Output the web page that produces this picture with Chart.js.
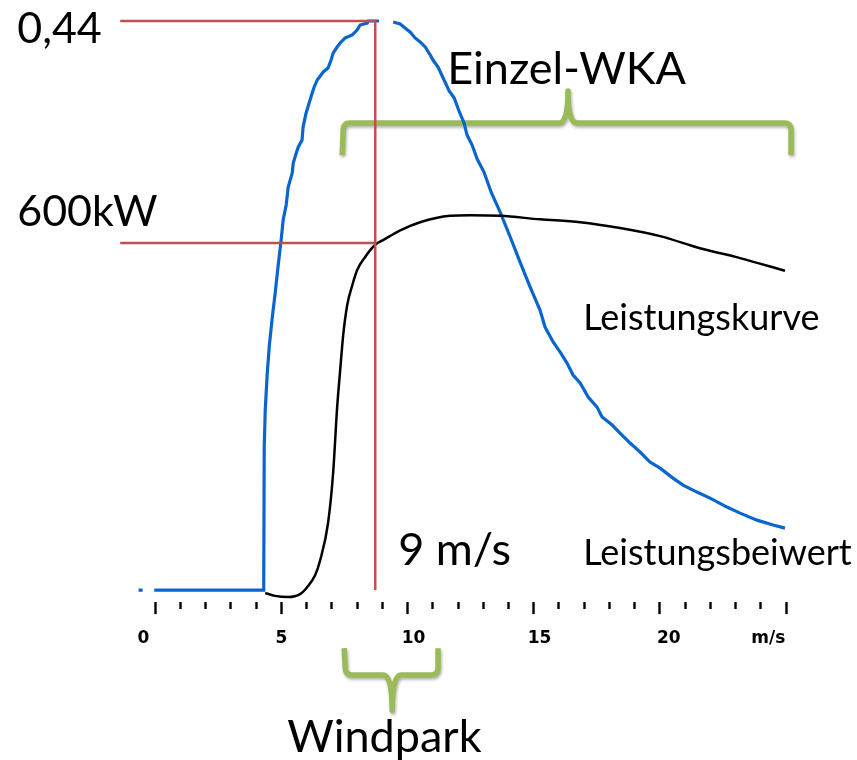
<!DOCTYPE html>
<html>
<head>
<meta charset="utf-8">
<script src="https://cdn.jsdelivr.net/npm/chart.js@4/dist/chart.umd.min.js"></script>
<style>
  html, body { margin: 0; padding: 0; background: #fff; }
  #wrap { width: 857px; height: 760px; position: relative; }
</style>
</head>
<body>
<div id="wrap"><canvas id="chart"></canvas></div>
<script>
// Leistungsbeiwert cp over wind speed (m/s), null = gap in the curve
const cpSpeed = [-0.66, -0.50, -0.45, -0.04, 4.30, 4.32, 4.36, 4.44, 4.52, 4.64, 4.75, 4.87, 4.99, 5.07, 5.19,
  5.27, 5.43, 5.47, 5.59, 5.67, 5.82, 5.86, 5.98, 6.10, 6.22, 6.30, 6.42, 6.54, 6.66, 6.85, 6.97, 7.05, 7.21,
  7.33, 7.53, 7.81, 8.00, 8.12, 8.40, 8.44, 8.87, 9.10, 9.43, 9.71, 9.90, 10.10, 10.30, 10.50, 10.70, 10.90,
  11.01, 11.21, 11.65, 11.85, 12.04, 12.24, 12.36, 12.56, 12.76, 13.03, 13.31, 13.67, 14.07, 14.46, 14.86,
  15.25, 15.45, 15.77, 16.05, 16.32, 16.56, 16.84, 17.16, 17.51, 17.71, 18.11, 18.42, 18.82, 19.22, 19.61,
  20.01, 20.52, 20.92, 21.47, 21.99, 22.66, 23.18, 23.85, 24.49, 24.96];
const cpValue = [0, 0, null, 0, 0, 0.1106, 0.1392, 0.1678, 0.1887, 0.2111, 0.2289, 0.2505, 0.2706, 0.2861, 0.2977,
  0.3116, 0.3225, 0.3302, 0.3379, 0.3426, 0.3480, 0.3580, 0.3689, 0.3766, 0.3843, 0.3890, 0.3944, 0.3975, 0.4006,
  0.4036, 0.4098, 0.4152, 0.4199, 0.4230, 0.4269, 0.4292, 0.4330, 0.4369, 0.4384, 0.44, 0.44, null, 0.4392,
  0.4377, 0.4346, 0.4315, 0.4269, 0.4238, 0.4199, 0.4137, 0.4098, 0.4044, 0.3859, 0.3805, 0.3704, 0.3611,
  0.3518, 0.3441, 0.3333, 0.3232, 0.3078, 0.2923, 0.2730, 0.2536, 0.2343, 0.2165, 0.2034, 0.1918, 0.1840,
  0.1755, 0.1663, 0.1601, 0.1492, 0.1415, 0.1338, 0.1276, 0.1214, 0.1137, 0.1067, 0.0990, 0.0943, 0.0866,
  0.0812, 0.0758, 0.0711, 0.0642, 0.0595, 0.0541, 0.0503, 0.0479];

// Leistungskurve in kW
const powerSpeed = [4.36, 4.75, 5.27, 5.74, 6.02, 6.34, 6.54, 6.85, 7.05, 7.21, 7.33, 7.45, 7.61, 7.81, 8.00,
  8.32, 8.72, 9.03, 9.71, 10.50, 11.69, 12.48, 13.67, 15.25, 16.84, 18.42, 20.01, 21.59, 23.18, 24.96];
const powerKW = [-5, -10, -12, -7, 5, 26, 52, 116, 202, 316, 380, 441, 493, 527, 553,
  576, 597, 605, 622, 636, 647, 648, 647, 641, 636, 626, 612, 591, 574, 552];

// reference marks
const cpMax = 0.44;
const ratedKW = 600;
const refSpeed = 8.72;
const refStart = -1.39;

const tickLabels = { 0: '0    ', 5: '5', 10: '  10', 15: '  15', 20: '   20', 25: 'm/s      ' };

// braces in data units (x = m/s, y = cp)
const braceEinzel = { from: 7.45, to: 25.2, tip: 16.36, line: 0.3611, ends: 0.3364, peak: 0.3859 };
const braceWindpark = { from: 7.53, to: 11.21, tip: 9.39, line: -0.0657, ends: -0.0449, peak: -0.0928 };

// text notes, anchored at left/baseline in data units
const notes = [
  { text: '0,44', x: -5.47, y: 0.423, size: 43 },
  { text: '600kW', x: -5.47, y: 0.2815, size: 43 },
  { text: 'Einzel-WKA', x: 11.57, y: 0.3913, size: 45 },
  { text: '9 m/s', x: 9.63, y: 0.0193, size: 45 },
  { text: 'Windpark', x: 5.23, y: -0.1253, size: 45 },
  { text: 'Leistungskurve', x: 16.96, y: 0.2011, size: 36 },
  { text: 'Leistungsbeiwert', x: 16.96, y: 0.0193, size: 36 }
];

const cpPoints = cpSpeed.map((s, i) => ({ x: s, y: cpValue[i] }));
const powerPoints = powerSpeed.map((s, i) => ({ x: s, y: powerKW[i] }));

function drawBrace(ctx, xs, ys, b) {
  const x1 = xs.getPixelForValue(b.from), x2 = xs.getPixelForValue(b.to), xm = xs.getPixelForValue(b.tip);
  const yl = ys.getPixelForValue(b.line), ye = ys.getPixelForValue(b.ends), yt = ys.getPixelForValue(b.peak);
  const d = Math.sign(ye - yl), r = 7, w = 9;
  ctx.beginPath();
  ctx.moveTo(x1 - 1, ye);
  ctx.lineTo(x1, yl + d * r);
  ctx.quadraticCurveTo(x1, yl, x1 + r, yl);
  ctx.lineTo(xm - w, yl);
  ctx.quadraticCurveTo(xm, yl, xm, yt);
  ctx.quadraticCurveTo(xm, yl, xm + w, yl);
  ctx.lineTo(x2 - r, yl);
  ctx.quadraticCurveTo(x2, yl, x2, yl + d * r);
  ctx.lineTo(x2, ye);
  ctx.stroke();
}

const annotate = {
  id: 'annotate',
  beforeDatasetsDraw(chart) {
    const ctx = chart.ctx, xs = chart.scales.x, ys = chart.scales.y;
    ctx.save();
    ctx.strokeStyle = '#9BBB59';
    ctx.lineWidth = 5.5;
    ctx.lineJoin = 'round';
    ctx.lineCap = 'butt';
    ctx.shadowColor = 'rgba(0,0,0,0.3)';
    ctx.shadowBlur = 3;
    ctx.shadowOffsetX = 1;
    ctx.shadowOffsetY = 2;
    drawBrace(ctx, xs, ys, braceEinzel);
    drawBrace(ctx, xs, ys, braceWindpark);
    ctx.restore();
  },
  afterDraw(chart) {
    const ctx = chart.ctx, xs = chart.scales.x, ys = chart.scales.y;
    ctx.save();
    ctx.fillStyle = '#000';
    ctx.textAlign = 'left';
    ctx.textBaseline = 'alphabetic';
    notes.forEach(n => {
      ctx.font = n.size + 'px Lato';
      ctx.fillText(n.text, xs.getPixelForValue(n.x), ys.getPixelForValue(n.y));
    });
    ctx.restore();
  }
};

new Chart(document.getElementById('chart'), {
  type: 'line',
  data: {
    datasets: [
      {
        label: 'cp max',
        data: [{ x: refStart, y: cpMax }, { x: refSpeed, y: cpMax }, { x: refSpeed, y: 0 }],
        yAxisID: 'y',
        borderColor: '#C0504D',
        borderWidth: 2.5,
        pointRadius: 0,
        clip: false
      },
      {
        label: 'Nennleistung',
        data: [{ x: refStart, y: ratedKW }, { x: refSpeed, y: ratedKW }],
        yAxisID: 'kw',
        borderColor: '#C0504D',
        borderWidth: 2.5,
        pointRadius: 0,
        clip: false
      },
      {
        label: 'Leistungskurve',
        data: powerPoints,
        yAxisID: 'kw',
        borderColor: '#000',
        borderWidth: 2.5,
        pointRadius: 0,
        cubicInterpolationMode: 'monotone'
      },
      {
        label: 'Leistungsbeiwert',
        data: cpPoints,
        yAxisID: 'y',
        borderColor: '#0A66CC',
        borderWidth: 3.2,
        pointRadius: 0,
        tension: 0,
        clip: false
      }
    ]
  },
  options: {
    responsive: true,
    maintainAspectRatio: false,
    animation: false,
    layout: { padding: { left: 130, right: 71, top: 10, bottom: 97.5 } },
    plugins: { legend: { display: false }, tooltip: { enabled: false } },
    scales: {
      x: {
        type: 'linear',
        min: -1,
        max: 25,
        afterBuildTicks: s => { s.ticks = s.ticks.filter(t => t.value >= 0); },
        border: { display: false },
        grid: {
          drawOnChartArea: false,
          drawTicks: true,
          tickLength: 12,
          tickWidth: 2.4,
          tickColor: '#000',
          tickBorderDash: c => (c.tick && c.tick.value % 5 === 0) ? [] : [7, 20]
        },
        ticks: {
          stepSize: 1,
          autoSkip: false,
          maxRotation: 0,
          padding: 14,
          color: '#000',
          font: { family: 'DejaVu Sans', weight: 'bold', size: 17 },
          callback: v => tickLabels[v] !== undefined ? tickLabels[v] : ''
        }
      },
      y: { display: false, min: -0.00928, max: 0.4485 },
      kw: { display: false, position: 'left', min: -20.75, max: 1002.9 }
    }
  },
  plugins: [annotate]
});
</script>
</body>
</html>
